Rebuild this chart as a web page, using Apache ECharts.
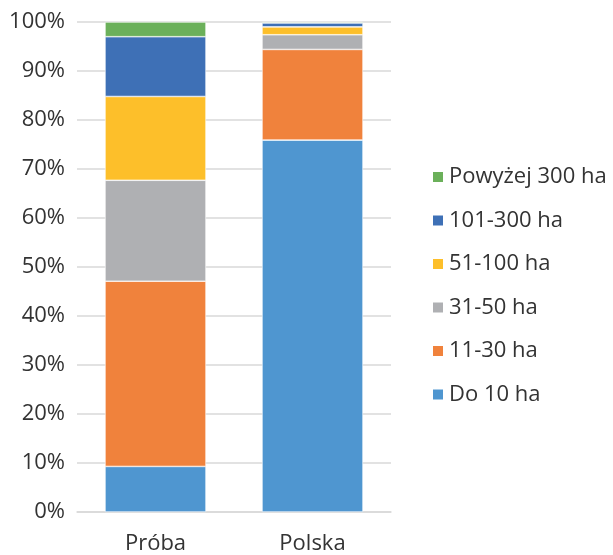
<!DOCTYPE html>
<html>
<head>
<meta charset="utf-8">
<script src="https://cdn.jsdelivr.net/npm/echarts@6/dist/echarts.min.js"></script>
<style>
  html, body { margin: 0; padding: 0; background: #fff; }
  #chart { width: 613px; height: 555px; }
</style>
</head>
<body>
<div id="chart"></div>
<script>
// kategorie i udziały (%)
var categories = ['Próba', 'Polska'];
var do10 = [9.3, 75.9];
var ha11_30 = [37.8, 18.5];
var ha31_50 = [20.6, 3.0];
var ha51_100 = [17.1, 1.6];
var ha101_300 = [12.2, 0.8];
var powyzej300 = [3.0, 0.2];

var seriesNames = ['Do 10 ha', '11-30 ha', '31-50 ha', '51-100 ha', '101-300 ha', 'Powyżej 300 ha'];
var seriesData = [do10, ha11_30, ha31_50, ha51_100, ha101_300, powyzej300];
var colors = ['#4F96D0', '#F0823C', '#AFB0B3', '#FDBF2A', '#3E70B6', '#6BB05A'];

var font = '"Open Sans", sans-serif';
var textColor = '#333333';

var chart = echarts.init(document.getElementById('chart'));

var series = seriesNames.map(function (name, i) {
  return {
    name: name,
    type: 'bar',
    stack: 'total',
    barWidth: 101,
    data: seriesData[i],
    itemStyle: { color: colors[i], borderColor: '#fff', borderWidth: 0.6 },
    emphasis: { disabled: true }
  };
});

chart.setOption({
  animation: false,
  color: colors,
  grid: { left: 77, right: 222, top: 22, bottom: 41 },
  legend: {
    orient: 'vertical',
    left: 426,
    top: 161,
    itemWidth: 12,
    itemHeight: 12,
    itemGap: 21.5,
    icon: 'rect',
    data: seriesNames.slice().reverse(),
    textStyle: { fontFamily: font, fontSize: 22, color: textColor, lineHeight: 22 }
  },
  xAxis: {
    type: 'category',
    data: categories,
    axisLine: { lineStyle: { color: '#d9d9d9', width: 1.5 } },
    axisTick: { show: false },
    axisLabel: { fontFamily: font, fontSize: 22, color: textColor, margin: 21 }
  },
  yAxis: {
    type: 'value',
    min: 0,
    max: 100,
    interval: 10,
    axisLine: { show: false },
    axisTick: { show: false },
    splitLine: { lineStyle: { color: '#d9d9d9', width: 1.5 } },
    axisLabel: { formatter: '{value}%', fontFamily: font, fontSize: 22, color: textColor, margin: 12 }
  },
  series: series
});
</script>
</body>
</html>
